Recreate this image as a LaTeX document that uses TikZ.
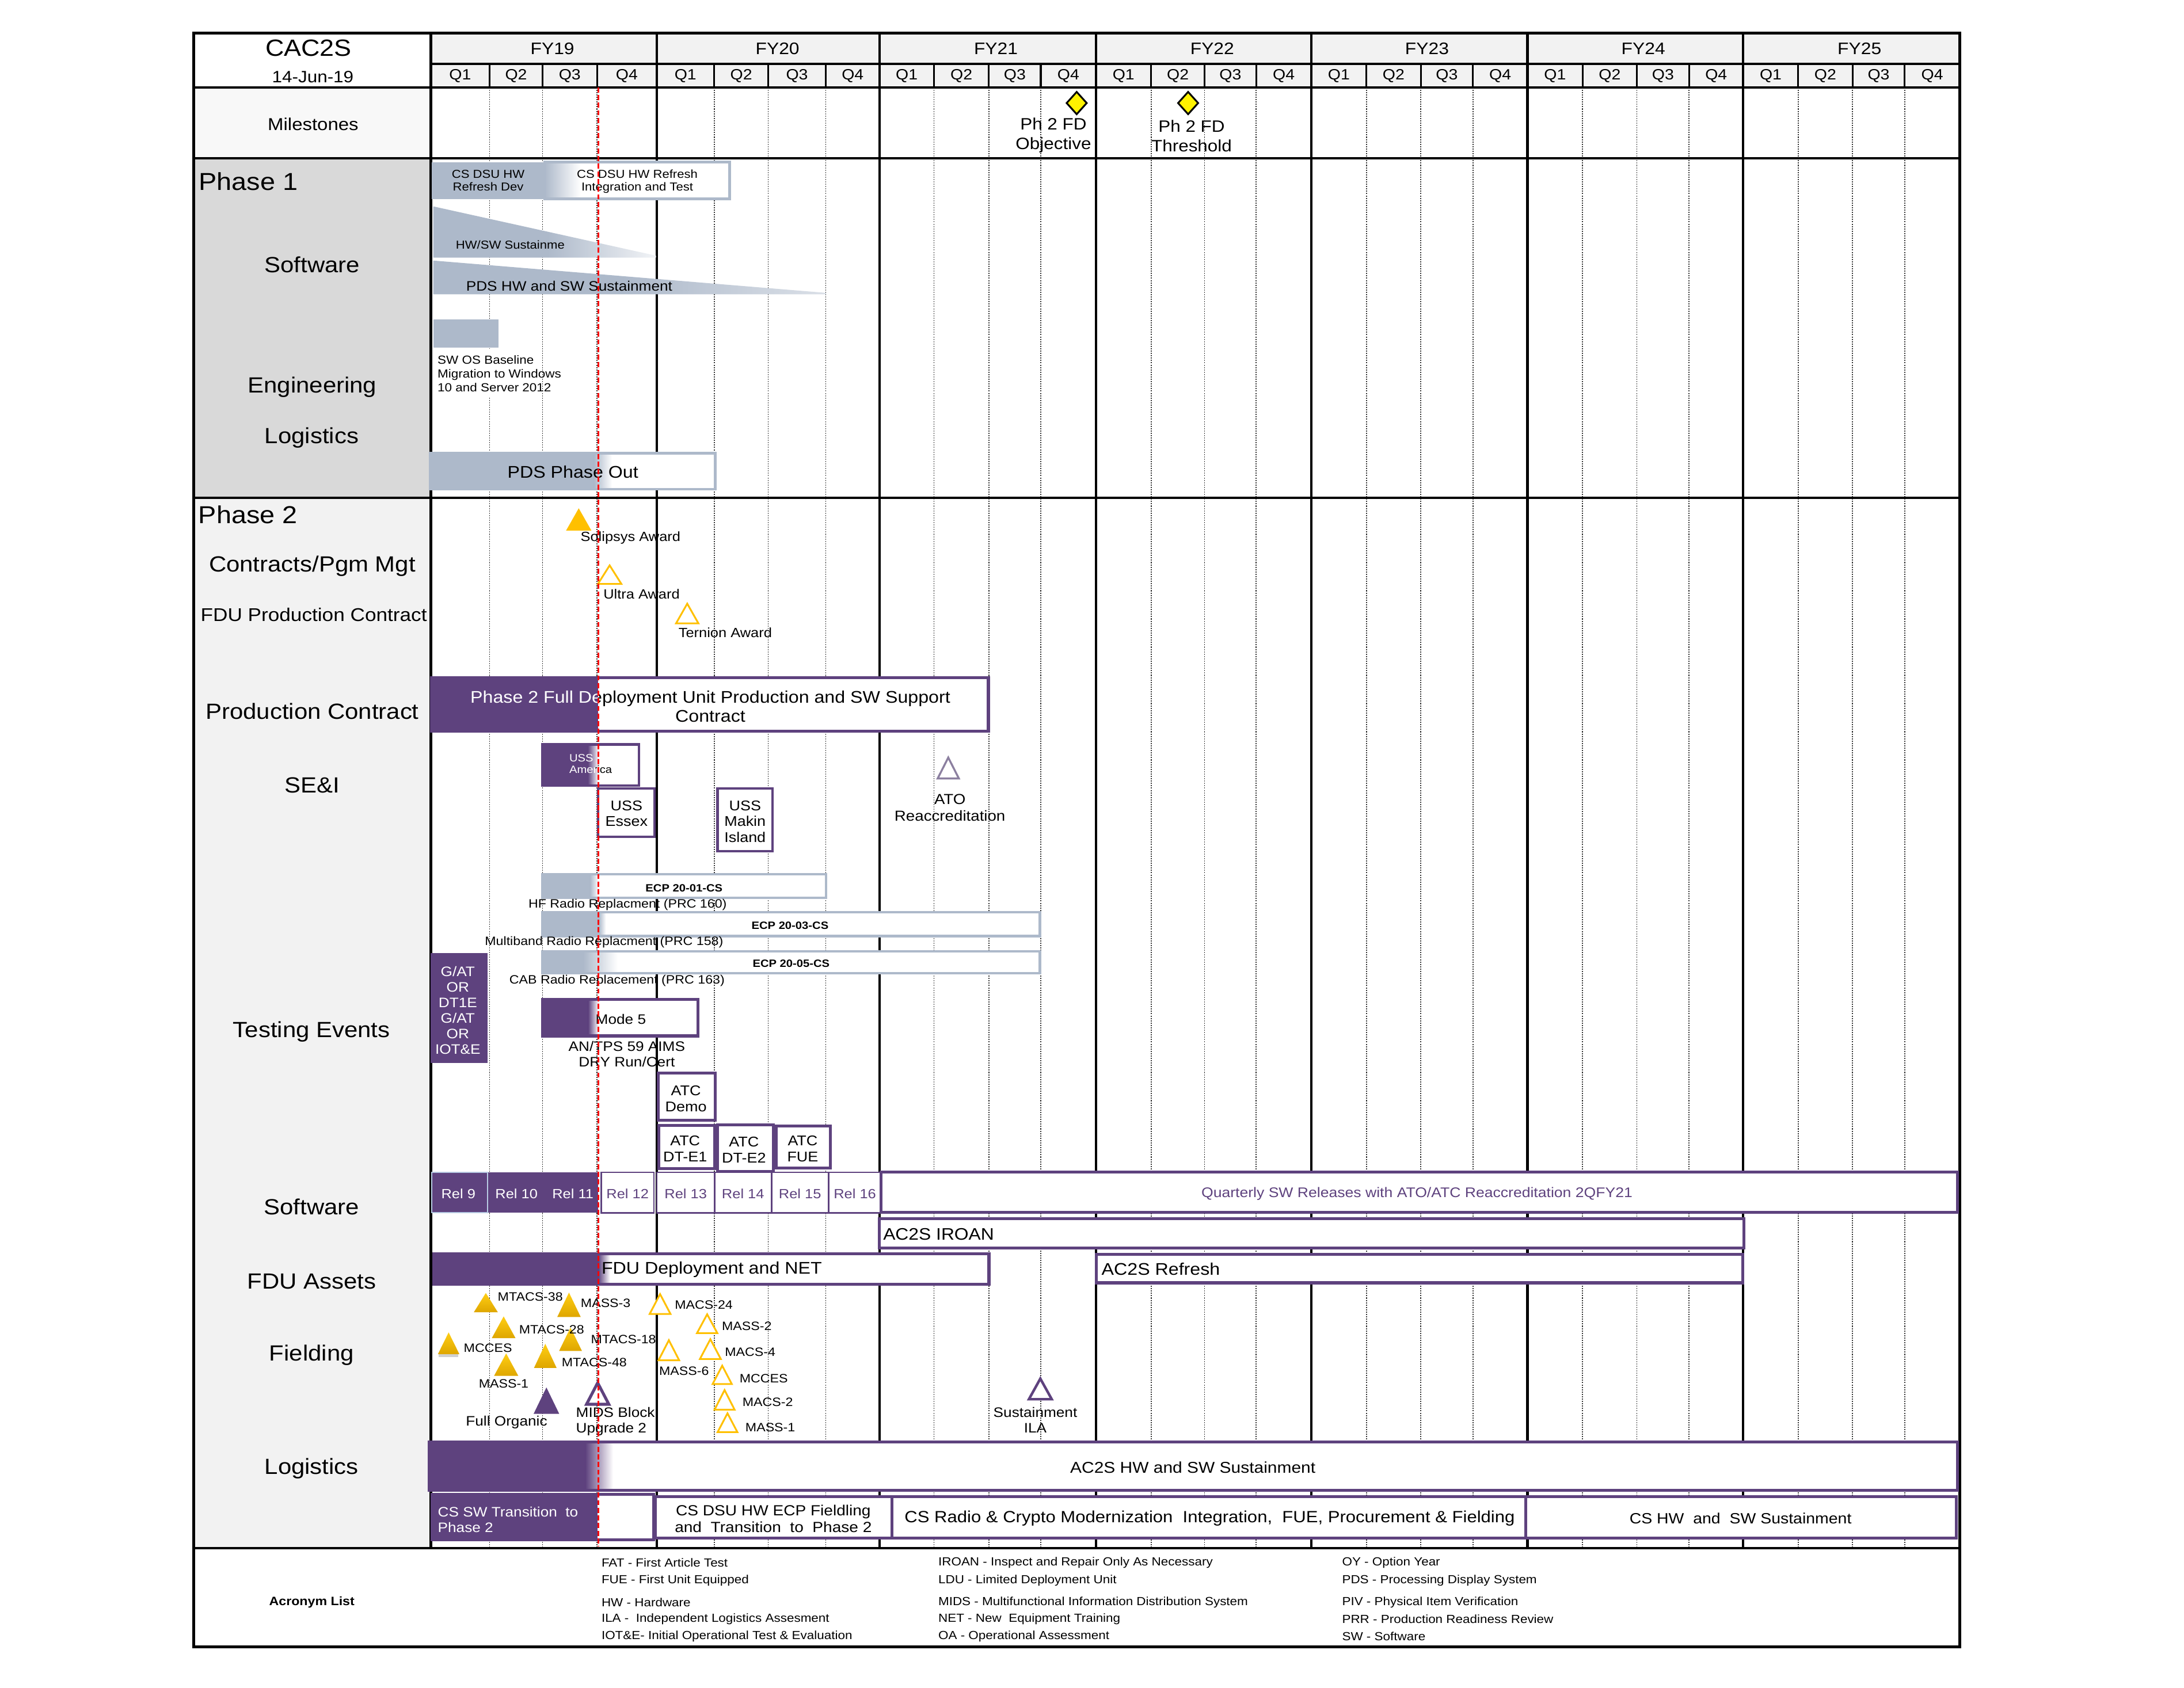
\documentclass[tikz,border=0pt]{standalone}
\usepackage{fontspec}
\setmainfont{Liberation Sans}[FakeStretch=1.1]
\definecolor{pur}{RGB}{94,66,126}
\definecolor{gb}{RGB}{173,185,202}
\definecolor{gold}{RGB}{255,192,0}
\definecolor{goldlt}{RGB}{255,206,20}
\definecolor{golddk}{RGB}{222,166,0}
\definecolor{lg}{RGB}{242,242,242}
\definecolor{mg}{RGB}{217,217,217}
\definecolor{vlg}{RGB}{248,248,248}
\definecolor{atoc}{RGB}{140,128,160}
\definecolor{relblue}{RGB}{184,204,228}
\newcommand\myfs[2][1.2]{\fontsize{#2}{\fpeval{#1*#2}}\selectfont}
\newcommand\fadebox[8]{%
  \fill[white] (#2,#3) rectangle (#4,#5);
  \fill[#1] (#2,#3) rectangle (#6,#5);
  \shade[left color=#1,right color=white] (#6,#3) rectangle (#7,#5);
  \draw[#1,line width=#8] (#2,#3) rectangle (#4,#5);}
\newcommand\tri[5]{\path[#1] (#2,#3) -- (#2+#5,#4) -- (#2-#5,#4) -- cycle;}
\begin{document}
\begin{tikzpicture}[x=0.025cm,y=-0.025cm,
  every node/.style={inner sep=0pt},
  fyl/.style={line width=1.3pt},
  qline/.style={black!80,line width=0.5pt,dash pattern=on 0.6pt off 0.6pt},
  pbox/.style={draw=pur,line width=1.5pt,fill=white},
  seclab/.style={font={\myfs{11.2}}},
  sgold/.style={top color=goldlt,bottom color=golddk},
  ogold/.style={draw=gold,line width=0.9pt,fill=white},
  tlab/.style={font={\myfs{6.2}}},
  acr/.style={font={\myfs{6}},anchor=west},
  ]
\useasboundingbox (0,0) rectangle (1568,1212);
\fill[white] (0,0) rectangle (1568,1212);
% backgrounds
\fill[vlg] (139,62.7) rectangle (309.3,113.7);
\fill[mg] (139,113.7) rectangle (309.3,357.6);
\fill[lg] (139,357.6) rectangle (309.3,1111.7);
\fill[lg] (309.3,23.7) rectangle (1407,62.7);
% grid
\foreach \x in {351.5,389.5,428.6,512.8,551.5,592.9,670.5,710,747.2,826.5,864.8,901.9,981,1020,1057.5,1136.2,1175.2,1212.7,1291,1330,1367.5}{
  \draw[qline] (\x,62.7) -- (\x,1111.7);
  \draw[line width=0.9pt] (\x,45.9) -- (\x,62.7);}
\foreach \x in {309.3,471.5,631.5,786.8,941.5,1096.7,1251.5}{\draw[fyl] (\x,23.7) -- (\x,1111.7);}
\draw[line width=1pt] (309.3,45.9) -- (1407,45.9);
\foreach \y in {62.7,113.7,357.6,1111.7}{\draw[fyl] (139,\y) -- (1407,\y);}
\draw[fyl] (139,23.7) rectangle (1407,1182.6);
% header text
\node[font={\myfs{12}}] (title) at (221.5,34.4) {CAC2S};
\node[font={\myfs{8.4}}] (date) at (224.6,55.1) {14-Jun-19};
\foreach \x/\t [count=\i] in {396.6/FY19,558.2/FY20,715/FY21,870.3/FY22,1024.5/FY23,1179.8/FY24,1335/FY25}
  \node[font={\myfs{8.5}}] (fy\i) at (\x,35) {\t};
\foreach \a/\b/\q [count=\i] in {309.3/351.5/1,351.5/389.5/2,389.5/428.6/3,428.6/471.5/4,471.5/512.8/1,512.8/551.5/2,551.5/592.9/3,592.9/631.5/4,631.5/670.5/1,670.5/710/2,710/747.2/3,747.2/786.8/4,786.8/826.5/1,826.5/864.8/2,864.8/901.9/3,901.9/941.5/4,941.5/981/1,981/1020/2,1020/1057.5/3,1057.5/1096.7/4,1096.7/1136.2/1,1136.2/1175.2/2,1175.2/1212.7/3,1212.7/1251.5/4,1251.5/1291/1,1291/1330/2,1330/1367.5/3,1367.5/1407/4}
  \node[font={\myfs{7.6}}] (q\i) at ({(\a+\b)/2},54.6) {Q\q};
% left labels
\node[font={\myfs{8.8}}] (lmil) at (224.8,89.1) {Milestones};
\node[font={\myfs{12.5}},anchor=west] (lph1) at (142.6,130.2) {Phase 1};
\node[seclab] (lsw1) at (224.1,190.1) {Software};
\node[seclab] (leng) at (224.2,277.9) {Engineering};
\node[seclab] (llog1) at (223.8,314.2) {Logistics};
\node[font={\myfs{12.5}},anchor=west] (lph2) at (142.3,369.6) {Phase 2};
\node[seclab] (lcon) at (224.2,406.5) {Contracts/Pgm Mgt};
\node[font={\myfs{9.4}}] (lfdupc) at (225.3,441.3) {FDU Production Contract};
\node[seclab] (lpc) at (224.2,510.7) {Production Contract};
\node[seclab] (lsei) at (224.2,563.8) {SE\&I};
\node[seclab] (ltest) at (223.7,740.8) {Testing Events};
\node[seclab] (lsw2) at (223.7,866.7) {Software};
\node[seclab] (lfdu) at (223.7,920.3) {FDU Assets};
\node[seclab] (lfld) at (223.7,973.1) {Fielding};
\node[seclab] (llog2) at (223.7,1054.6) {Logistics};
% milestones
\draw[line width=0.9pt,fill=yellow] (773,66) -- (780.2,74) -- (773,82) -- (765.8,74) -- cycle;
\draw[line width=0.9pt,fill=yellow] (853,66) -- (860.2,74) -- (853,82) -- (845.8,74) -- cycle;
\node[font={\myfs[1.17]{8.4}},align=center] (ms1) at (756.3,97.1) {Ph 2 FD\\Objective};
\node[font={\myfs[1.17]{8.4}},align=center] (ms2) at (855.5,97.6) {Ph 2 FD\\Threshold};
% phase 1
\fill[gb] (309.8,116.4) rectangle (390.3,142.8);
\node[font={\myfs[1.1]{5.9}},align=center] (p1a) at (350.5,129.6) {CS DSU HW\\Refresh Dev};
\fadebox{gb}{391}{116.4}{523.9}{142.8}{391}{417}{1.3pt}
\node[font={\myfs[1.1]{5.9}},align=center] (p1b) at (457.5,130.4) {CS DSU HW Refresh\\Integration and Test};
\begin{scope}
  \clip (311,148.2) -- (471,183.6) -- (471,185) -- (311,185) -- cycle;
  \fill[gb] (305,140) rectangle (393,190);
  \shade[left color=gb,right color=gb!15] (393,140) rectangle (472,190);
\end{scope}
\node[font={\myfs{5.9}},anchor=west] (p1c) at (327,175.9) {HW/SW Sustainme};
\begin{scope}
  \clip (311,187.1) -- (593,210.3) -- (593,211.3) -- (311,211.3) -- cycle;
  \fill[gb] (305,180) rectangle (446,215);
  \shade[left color=gb,right color=gb!45] (446,180) rectangle (594,215);
\end{scope}
\node[font={\myfs{7}}] (p1d) at (408.7,205.5) {PDS HW and SW Sustainment};
\fill[gb] (311,229.3) rectangle (357.8,249.8);
\fill[white] (310.5,250.6) rectangle (388,285);
\node[font={\myfs[1.17]{6}},align=left,anchor=west] (p1e) at (313.9,268.2) {SW OS Baseline\\Migration to Windows\\10 and Server 2012};
\fadebox{gb}{308.8}{325.4}{513.5}{351.4}{426.5}{439.5}{1.3pt}
\node[font={\myfs{8.6}}] (p1f) at (411.3,338.9) {PDS Phase Out};
% phase 2 awards
\path[fill=gold] (415.5,365) -- (424.6,381) -- (406.4,381) -- cycle;
\node[font={\myfs{6.8}}] (a1) at (452.7,386.4) {Solipsys Award};
\tri{ogold}{437.7}{406}{419.3}{8.4}
\node[font={\myfs{6.8}}] (a2) at (460.6,426.7) {Ultra Award};
\tri{ogold}{493.4}{433.5}{447.6}{8}
\node[font={\myfs{6.8}}] (a3) at (520.7,454.1) {Ternion Award};
% production contract
\fill[white] (309.6,486.7) rectangle (709.6,525.2);
\fill[pur] (309.6,486.7) rectangle (429.5,525.2);
\draw[pur,line width=1.5pt] (309.6,486.7) rectangle (709.6,525.2);
\begin{scope}
  \clip (300,480) rectangle (429.5,530);
  \node[font={\myfs[1.13]{8.6}},align=center,text=white] (pcw) at (510,507.3) {Phase 2 Full Deployment Unit Production and SW Support\\Contract};
\end{scope}
\begin{scope}
  \clip (429.5,480) rectangle (720,530);
  \node[font={\myfs[1.13]{8.6}},align=center] (pcb) at (510,507.3) {Phase 2 Full Deployment Unit Production and SW Support\\Contract};
\end{scope}
% SE&I
\fadebox{pur}{389.6}{534.5}{458.8}{564.1}{422}{429.8}{1.3pt}
\begin{scope}
  \clip (380,530) rectangle (427.5,570);
  \node[font={\myfs[1.1]{5.4}},align=left,anchor=west,text=white] (usaw) at (408.5,548.6) {USS\\America};
\end{scope}
\begin{scope}
  \clip (427.5,530) rectangle (470,570);
  \node[font={\myfs[1.1]{5.4}},align=left,anchor=west] (usab) at (408.5,548.6) {USS\\America};
\end{scope}
\draw[pbox,line width=1.3pt] (429.5,566.2) rectangle (469.8,600.9);
\node[font={\myfs[1.11]{7.2}},align=center] (ess) at (449.8,584.2) {USS\\Essex};
\draw[pbox,line width=1.3pt] (515.2,566.3) rectangle (554.7,611.2);
\node[font={\myfs[1.13]{7.2}},align=center] (mak) at (534.9,589.9) {USS\\Makin\\Island};
\tri{draw=atoc,line width=1pt,fill=white}{680.8}{544}{559}{7.6}
\node[font={\myfs[1.15]{7.4}},align=center] (ato) at (682,580) {ATO\\Reaccreditation};
% testing events
\fadebox{gb}{389.4}{627.9}{593}{644.6}{423.6}{429.8}{1.2pt}
\node[font={\myfs{5.4}\bfseries}] (ecp1) at (491.1,637.9) {ECP 20-01-CS};
\node[font={\myfs{6.2}}] (ecp1l) at (450.6,649.5) {HF Radio Replacment (PRC 160)};
\fadebox{gb}{389.4}{655.2}{746.6}{672.2}{430}{435}{1.2pt}
\node[font={\myfs{5.4}\bfseries}] (ecp3) at (567.2,664.7) {ECP 20-03-CS};
\node[font={\myfs{6.2}}] (ecp3l) at (433.7,676.6) {Multiband Radio Replacment (PRC 158)};
\fadebox{gb}{389.4}{683.3}{746.6}{699}{418.7}{443.5}{1.2pt}
\node[font={\myfs{5.4}\bfseries}] (ecp5) at (568,692) {ECP 20-05-CS};
\node[font={\myfs{6.2}}] (ecp5l) at (443,704.3) {CAB Radio Replacement (PRC 163)};
\fill[pur] (309.3,684.5) rectangle (350.2,763.5);
\node[font={\myfs[1.13]{7}},align=center,text=white] (gat) at (328.7,725.5) {G/AT\\OR\\DT1E\\G/AT\\OR\\IOT\&E};
\fadebox{pur}{389.4}{717.8}{501.2}{743.9}{422.2}{429.8}{1.5pt}
\node[font={\myfs{7}}] (m5) at (445.7,731.8) {Mode 5};
\node[font={\myfs[1.13]{7}},align=center] (m5l) at (450,757) {AN/TPS 59 AIMS\\DRY Run/Cert};
\draw[pbox] (472.5,770.4) rectangle (513.6,804.6);
\node[font={\myfs[1.13]{7.2}},align=center] (atc1) at (492.5,788.9) {ATC\\Demo};
\draw[pbox] (472.9,808.1) rectangle (513,839.2);
\node[font={\myfs[1.13]{7.2}},align=center] (atc2) at (491.9,825) {ATC\\DT-E1};
\draw[pbox] (515.1,807.6) rectangle (555.2,841.4);
\node[font={\myfs[1.13]{7.2}},align=center] (atc3) at (534.1,825.7) {ATC\\DT-E2};
\draw[pbox] (557.3,808.5) rectangle (596,838.6);
\node[font={\myfs[1.13]{7.2}},align=center] (atc4) at (576.3,825) {ATC\\FUE};
% software releases
\fill[pur] (310.1,841.9) rectangle (429.5,870.9);
\draw[relblue,line width=0.6pt] (310.1,841.9) rectangle (350.2,870.9);
\node[font={\myfs{6.8}},text=white] (r9) at (329.1,857.4) {Rel 9};
\node[font={\myfs{6.8}},text=white] (r10) at (370.8,857.4) {Rel 10};
\node[font={\myfs{6.8}},text=white] (r11) at (411.3,857.4) {Rel 11};
\foreach \a/\b/\t [count=\i] in {431.6/469.5/12,471.6/513/13,513/553.9/14,553.9/594.8/15,594.8/632.7/16}{
  \draw[pur,line width=0.8pt,fill=white] (\a,841.9) rectangle (\b,870.9);
  \node[font={\myfs{6.8}},text=pur] (rel\i) at ({(\a+\b)/2},857.4) {Rel \t};}
\draw[pbox] (632.7,841.8) rectangle (1405.3,870.6);
\node[font={\myfs{7.1}},text=pur] (qsw) at (1017.3,857.4) {Quarterly SW Releases with ATO/ATC Reaccreditation 2QFY21};
% FDU assets
\draw[pbox] (631.3,875.3) rectangle (1252.2,896.2);
\node[font={\myfs{8.5}},anchor=west] (iroan) at (633.8,886.4) {AC2S IROAN};
\fadebox{pur}{311.4}{900.2}{710}{922.3}{429.5}{438}{1.5pt}
\node[font={\myfs{8.6}},anchor=west] (fdun) at (431.6,911.6) {FDU Deployment and NET};
\draw[pbox] (787,900.8) rectangle (1251.2,921.2);
\node[font={\myfs{8.6}},anchor=west] (refr) at (790.6,911.5) {AC2S Refresh};
% fielding triangles
\fill[black!30,opacity=0.6] (315,972.4) rectangle (329,974.6);
\tri{sgold}{348.8}{928.5}{942.3}{8.6}
\tri{sgold}{408.5}{928.2}{945.7}{8.4}
\tri{sgold}{361.6}{945.3}{960.9}{8.5}
\tri{sgold}{409.6}{953.3}{970.1}{8.2}
\tri{sgold}{322.1}{956.8}{972.4}{7.7}
\tri{sgold}{391.5}{965}{982.3}{8.1}
\tri{sgold}{363.4}{971.9}{988}{8.7}
\tri{fill=pur}{392.3}{996.3}{1015.3}{9.2}
\tri{draw=pur,line width=1.5pt,fill=white}{429.1}{993}{1008.4}{8}
\tri{ogold}{473.9}{929.3}{943.6}{7.5}
\tri{ogold}{480.2}{962.4}{976.8}{7.4}
\tri{ogold}{507.7}{943.8}{957.3}{7.3}
\tri{ogold}{510}{961.7}{975.9}{7.5}
\tri{ogold}{518.5}{980.7}{993.9}{6.9}
\tri{ogold}{520.2}{998.2}{1012.3}{7.2}
\tri{ogold}{522.3}{1014.9}{1028.4}{7.1}
\tri{draw=pur,line width=1.3pt,fill=white}{746.9}{990}{1004.8}{8.2}
\node[tlab,anchor=west] (f1) at (357.1,931.3) {MTACS-38};
\node[tlab,anchor=west] (f2) at (416.7,935.8) {MASS-3};
\node[tlab,anchor=west] (f3) at (372.4,954.7) {MTACS-28};
\node[tlab,anchor=west] (f4) at (424,961.9) {MTACS-18};
\node[tlab,anchor=west] (f5) at (332.7,967.8) {MCCES};
\node[tlab,anchor=west] (f6) at (403,978.5) {MTACS-48};
\node[tlab] (f7) at (361.6,993.7) {MASS-1};
\node[font={\myfs{7}}] (f8) at (363.7,1021.5) {Full Organic};
\node[font={\myfs[1.13]{7}},align=left,anchor=west] (f9) at (413.3,1020.6) {MIDS Block\\Upgrade 2};
\node[tlab,anchor=west] (f10) at (484.2,936.8) {MACS-24};
\node[tlab] (f11) at (491.1,984.7) {MASS-6};
\node[tlab,anchor=west] (f12) at (518,952.2) {MASS-2};
\node[tlab,anchor=west] (f13) at (520.2,970.7) {MACS-4};
\node[tlab,anchor=west] (f14) at (530.7,990.1) {MCCES};
\node[tlab,anchor=west] (f15) at (532.8,1007) {MACS-2};
\node[tlab,anchor=west] (f16) at (534.9,1025.1) {MASS-1};
\node[font={\myfs[1.15]{7}},align=center] (f17) at (743.3,1019.7) {Sustainment\\ILA};
% logistics
\fadebox{pur}{308.3}{1035.3}{1405.3}{1070.1}{420.2}{440.2}{1.5pt}
\node[font={\myfs{8}}] (sust) at (856.4,1053.9) {AC2S HW and SW Sustainment};
\fill[white] (310,1073.2) rectangle (469.1,1105.6);
\fill[pur] (310,1073.2) rectangle (429.1,1105.6);
\draw[pur,line width=1.5pt] (310,1073.2) rectangle (469.1,1105.6);
\node[font={\myfs[1.14]{7}},align=left,anchor=west,text=white] (cssw) at (314.1,1091.2) {CS SW Transition\ \ to\\Phase 2};
\draw[pbox] (470.5,1074.9) rectangle (640.4,1104.4);
\node[font={\myfs[1.13]{7.5}},align=center] (csdsu) at (555.2,1090.5) {CS DSU HW ECP Fieldling\\and\ \ Transition\ \ to\ \ Phase 2};
\draw[pbox] (640.4,1074.7) rectangle (1095.4,1104.4);
\node[font={\myfs{8.3}}] (csrad) at (868.5,1090.5) {CS Radio \& Crypto Modernization\ \ Integration,\ \ FUE,\ Procurement \& Fielding};
\draw[pbox] (1095.4,1074.7) rectangle (1404.6,1104.4);
\node[font={\myfs{7.6}}] (cshw) at (1249.6,1090.5) {CS HW\ \ and\ \ SW Sustainment};
% acronyms
\node[font={\myfs{6.2}\bfseries}] (acrt) at (223.9,1150.6) {Acronym List};
\node[acr] (c11) at (431.6,1122) {FAT - First Article Test};
\node[acr] (c12) at (431.6,1134.9) {FUE - First Unit Equipped};
\node[acr] (c13) at (431.6,1150.6) {HW - Hardware};
\node[acr] (c14) at (431.6,1162.6) {ILA -\ \ Independent Logistics Assesment};
\node[acr] (c15) at (431.6,1175.1) {IOT\&E- Initial Operational Test \& Evaluation};
\node[acr] (c21) at (673.4,1122) {IROAN - Inspect and Repair Only As Necessary};
\node[acr] (c22) at (673.4,1134.9) {LDU - Limited Deployment Unit};
\node[acr] (c23) at (673.4,1150.6) {MIDS - Multifunctional Information Distribution System};
\node[acr] (c24) at (673.4,1162.6) {NET - New\ \ Equipment Training};
\node[acr] (c25) at (673.4,1175.1) {OA - Operational Assessment};
\node[acr] (c31) at (963.3,1122) {OY - Option Year};
\node[acr] (c32) at (963.3,1134.9) {PDS - Processing Display System};
\node[acr] (c33) at (963.3,1150.6) {PIV - Physical Item Verification};
\node[acr] (c34) at (963.3,1162.6) {PRR - Production Readiness Review};
\node[acr] (c35) at (963.3,1175.1) {SW - Software};
% today line
\draw[red,line width=1.1pt,dash pattern=on 2.6pt off 1.3pt] (429.6,62.7) -- (429.6,1110.5);
\end{tikzpicture}
\end{document}
